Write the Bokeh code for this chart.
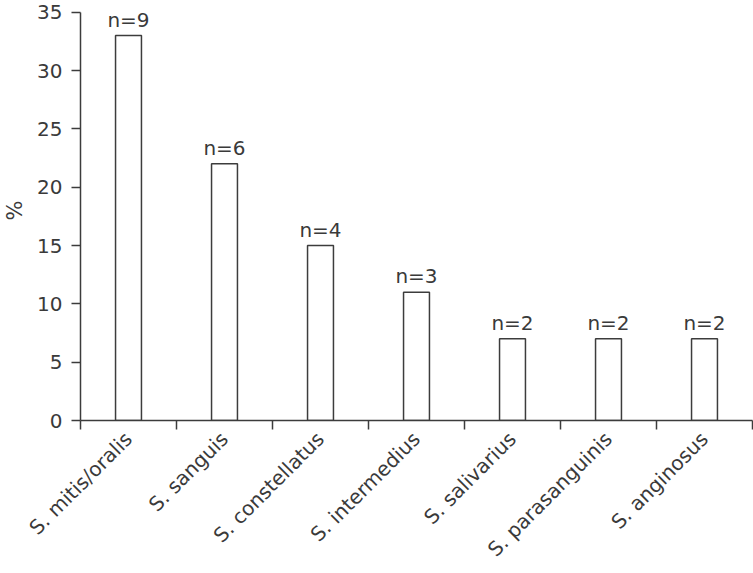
from math import pi
from bokeh.plotting import figure
from bokeh.models import Range1d, FixedTicker, ColumnDataSource, LabelSet, CustomJSTickFormatter
from bokeh.core.properties import value
from bokeh.embed import file_html
from bokeh.resources import INLINE

species = ["S. mitis/oralis", "S. sanguis", "S. constellatus", "S. intermedius",
           "S. salivarius", "S. parasanguinis", "S. anginosus"]
percent = [33, 22, 15, 11, 7, 7, 7]
counts = ["n=9", "n=6", "n=4", "n=3", "n=2", "n=2", "n=2"]
y_ticks = [0, 5, 10, 15, 20, 25, 30, 35]

FONT = "DejaVu Sans"
TXT = "#3a3a3a"
LINE = "#3c3c3c"

n = len(species)
xc = [i + 0.5 for i in range(n)]
src = ColumnDataSource(dict(x=xc, top=percent, name=species, lab=counts))

p = figure(width=753, height=573, output_backend="svg", toolbar_location=None,
           x_range=Range1d(0, n), y_range=Range1d(0, 36.0),
           min_border_left=80, min_border_right=1, min_border_top=0, min_border_bottom=153)
p.outline_line_color = None
p.xgrid.visible = False
p.ygrid.visible = False

p.vbar(x="x", top="top", width=0.27, source=src, fill_color="white",
       line_color=LINE, line_width=1.5)

labels = LabelSet(x="x", y="top", text="lab", source=src, y_offset=9,
                  text_align="center", text_baseline="alphabetic",
                  text_font=value(FONT), text_font_size=value("20px"),
                  text_color=value(TXT))
p.add_layout(labels)

# y axis
ya = p.yaxis[0]
ya.ticker = FixedTicker(ticks=y_ticks)
ya.bounds = (0, 35)
ya.axis_label = "%"
ya.axis_label_text_font = FONT
ya.axis_label_text_font_size = "21px"
ya.axis_label_text_font_style = "normal"
ya.axis_label_text_color = TXT
ya.axis_label_standoff = 7
ya.major_label_text_font = FONT
ya.major_label_text_font_size = "20px"
ya.major_label_text_color = TXT
ya.major_label_standoff = 9
ya.major_tick_out = 9
ya.major_tick_in = 0
ya.minor_tick_line_color = None
ya.axis_line_color = LINE
ya.axis_line_width = 1.5
ya.major_tick_line_color = LINE
ya.major_tick_line_width = 1.5

# x axis
xa = p.xaxis[0]
xa.ticker = FixedTicker(ticks=xc, minor_ticks=list(range(n + 1)))
xa.formatter = CustomJSTickFormatter(args=dict(names=species),
                                     code="return names[Math.floor(tick)];")
xa.major_label_orientation = pi / 4
xa.major_label_text_font = FONT
xa.major_label_text_font_size = "20px"
xa.major_label_text_color = TXT
xa.major_label_standoff = 6
xa.major_tick_line_color = None
xa.major_tick_out = 0
xa.major_tick_in = 0
xa.minor_tick_out = 9
xa.minor_tick_in = 0
xa.minor_tick_line_color = LINE
xa.minor_tick_line_width = 1.5
xa.axis_line_color = LINE
xa.axis_line_width = 1.5

open("out.html", "w").write(file_html(p, INLINE))
